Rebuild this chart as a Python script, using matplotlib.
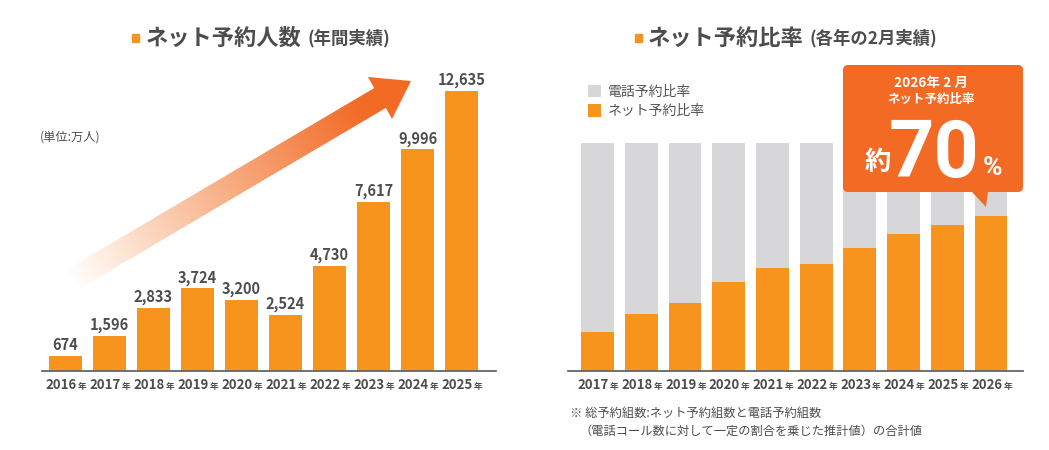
import numpy as np
import matplotlib
matplotlib.use('Agg')
import matplotlib.pyplot as plt
from matplotlib.patches import Rectangle, Polygon, FancyBboxPatch
from matplotlib.colors import LinearSegmentedColormap

plt.rcParams['font.family'] = ['Noto Sans CJK JP', 'DejaVu Sans']

## データ
# ネット予約人数 (年間実績, 万人)
years_left = ['2016', '2017', '2018', '2019', '2020', '2021', '2022', '2023', '2024', '2025']
net_users = [674, 1596, 2833, 3724, 3200, 2524, 4730, 7617, 9996, 12635]

# ネット予約比率 (各年の2月実績, %)
years_right = ['2017', '2018', '2019', '2020', '2021', '2022', '2023', '2024', '2025', '2026']
net_ratio = [17, 25, 30, 39, 45, 47, 54, 60, 64, 68]
phone_ratio = [100 - v for v in net_ratio]

ORANGE = '#F7941E'
CALLOUT = '#F26A24'
GRAY = '#D7D7D9'
TXT = '#4D4D4D'

W, H = 1049, 450
fig = plt.figure(figsize=(W / 100, H / 100), dpi=100)


def px_axes(x0, x1, y_top, y_base):
    # ピクセル指定で軸を作る
    return fig.add_axes([x0 / W, 1 - y_base / H, (x1 - x0) / W, (y_base - y_top) / H])


def style_axis(ax):
    for s in ['top', 'left', 'right']:
        ax.spines[s].set_visible(False)
    ax.spines['bottom'].set_color('#666666')
    ax.spines['bottom'].set_linewidth(1.3)
    ax.set_xticks([])
    ax.set_yticks([])
    ax.patch.set_alpha(0)


def year_labels(ax, xs, labels):
    tr = ax.get_xaxis_transform()
    for xi, lab in zip(xs, labels):
        ax.annotate(lab, (xi, 0), xycoords=tr, xytext=(8.2, -13), textcoords='offset points',
                    ha='right', va='baseline', fontsize=9.5, fontweight='bold', color=TXT)
        ax.annotate('年', (xi, 0), xycoords=tr, xytext=(8.8, -13), textcoords='offset points',
                    ha='left', va='baseline', fontsize=6.2, fontweight='bold', color=TXT)


#### 左: ネット予約人数
ax1 = px_axes(42, 496, 60, 371)
x1 = np.arange(len(years_left))
ax1.bar(x1, net_users, width=0.75, color=ORANGE)
ax1.set_xlim(-0.534, 9.784)
ax1.set_ylim(0, 14030)
style_axis(ax1)
for xi, v in zip(x1, net_users):
    ax1.annotate(f'{v:,}', (xi, v), xytext=(0, 4.5), textcoords='offset points',
                 ha='center', va='baseline', fontsize=10.5, fontweight='bold', color=TXT)
year_labels(ax1, x1, years_left)

#### 右: ネット予約比率
ax2 = px_axes(568, 1023, 60, 371)
x2 = np.arange(len(years_right))
b_net = ax2.bar(x2, net_ratio, width=0.75, color=ORANGE, label='ネット予約比率')
b_tel = ax2.bar(x2, phone_ratio, bottom=net_ratio, width=0.75, color=GRAY, label='電話予約比率')
ax2.set_xlim(-0.675, 9.73)
ax2.set_ylim(0, 136.4)
style_axis(ax2)
year_labels(ax2, x2, years_right)
ax2.legend([b_tel, b_net], ['電話予約比率', 'ネット予約比率'], loc='upper left',
           bbox_to_anchor=(575 / W, 1 - 72 / H), bbox_transform=fig.transFigure,
           frameon=False, fontsize=10, handlelength=1.0, handleheight=1.0,
           handletextpad=0.5, labelspacing=0.4, labelcolor='#555555')

#### 装飾 (タイトル, 矢印, 吹き出し)
ov = fig.add_axes([0, 0, 1, 1], zorder=5)
ov.set_xlim(0, W)
ov.set_ylim(H, 0)
ov.axis('off')


def title(x_sq, x_txt, main, sub):
    ov.add_patch(Rectangle((x_sq, 34), 7, 8, color=ORANGE))
    t = ov.text(x_txt, 38.5, main, ha='left', va='center', fontsize=16,
                fontweight='bold', color=TXT)
    ov.annotate(sub, xy=(1, 0.5), xycoords=t, xytext=(4, 0), textcoords='offset points',
                ha='left', va='center', fontsize=12.5, fontweight='bold', color=TXT)


title(132, 146, 'ネット予約人数', '(年間実績)')
title(635, 648, 'ネット予約比率', '(各年の2月実績)')

ov.text(40, 137, '(単位:万人)', ha='left', va='center', fontsize=8.8, color=TXT)

# グラデーション矢印
T = np.array([70.0, 281.0])
M = np.array([380.0, 98.0])
tip = np.array([411.0, 81.0])
u = (M - T) / np.linalg.norm(M - T)
n = np.array([-u[1], u[0]])
if n[1] < 0:
    n = -n
hw = 11.5
pts = [T - hw * n, M - hw * n, (368, 77), tip, (392, 119), M + hw * n, T + hw * n]
arrow = Polygon(pts, closed=True, facecolor='none', edgecolor='none')
ov.add_patch(arrow)
gx0, gx1, gy0, gy1 = 40, 420, 60, 300
X, Y = np.meshgrid(np.linspace(gx0, gx1, 400), np.linspace(gy0, gy1, 260))
tt = ((X - T[0]) * u[0] + (Y - T[1]) * u[1]) / np.linalg.norm(tip - T)
cmap = LinearSegmentedColormap.from_list('arr', [(0, '#FFFFFF'), (0.12, '#FEEBDD'),
                                                 (0.5, '#F7A77A'), (0.85, '#F26C28'),
                                                 (1, '#F26A22')])
im = ov.imshow(np.clip(tt, 0, 1), cmap=cmap, vmin=0, vmax=1, extent=(gx0, gx1, gy1, gy0),
               origin='upper', aspect='auto', interpolation='bilinear')
im.set_clip_path(arrow)
ov.set_xlim(0, W)
ov.set_ylim(H, 0)

# 吹き出し
ov.add_patch(FancyBboxPatch((843, 65), 180, 127, boxstyle='round,pad=0,rounding_size=5',
                            facecolor=CALLOUT, edgecolor='none'))
ov.add_patch(Polygon([(971, 191), (988, 191), (986, 207)], closed=True,
                     facecolor=CALLOUT, edgecolor='none'))
ov.text(931, 83, '2026年 2 月', ha='center', va='center', fontsize=9.8,
        fontweight='bold', color='white')
ov.text(931, 99, 'ネット予約比率', ha='center', va='center', fontsize=9,
        fontweight='bold', color='white')
ov.text(878, 163, '約', ha='center', va='center', fontsize=19,
        fontweight='bold', color='white')
ov.text(934, 177, '70', ha='center', va='baseline', fontsize=57, fontweight='bold',
        color='white', family=['Liberation Sans Narrow', 'Roboto', 'DejaVu Sans'])
ov.text(992, 175, '%', ha='center', va='baseline', fontsize=19, fontweight='bold',
        color='white', family=['Roboto', 'DejaVu Sans'])

# 注記
ov.text(570, 413, '※ 総予約組数:ネット予約組数と電話予約組数', ha='left', va='center',
        fontsize=8.8, color=TXT)
ov.text(580, 431, '（電話コール数に対して一定の割合を乗じた推計値）の合計値', ha='left',
        va='center', fontsize=8.8, color=TXT)

fig.savefig('out.png', dpi=100)
